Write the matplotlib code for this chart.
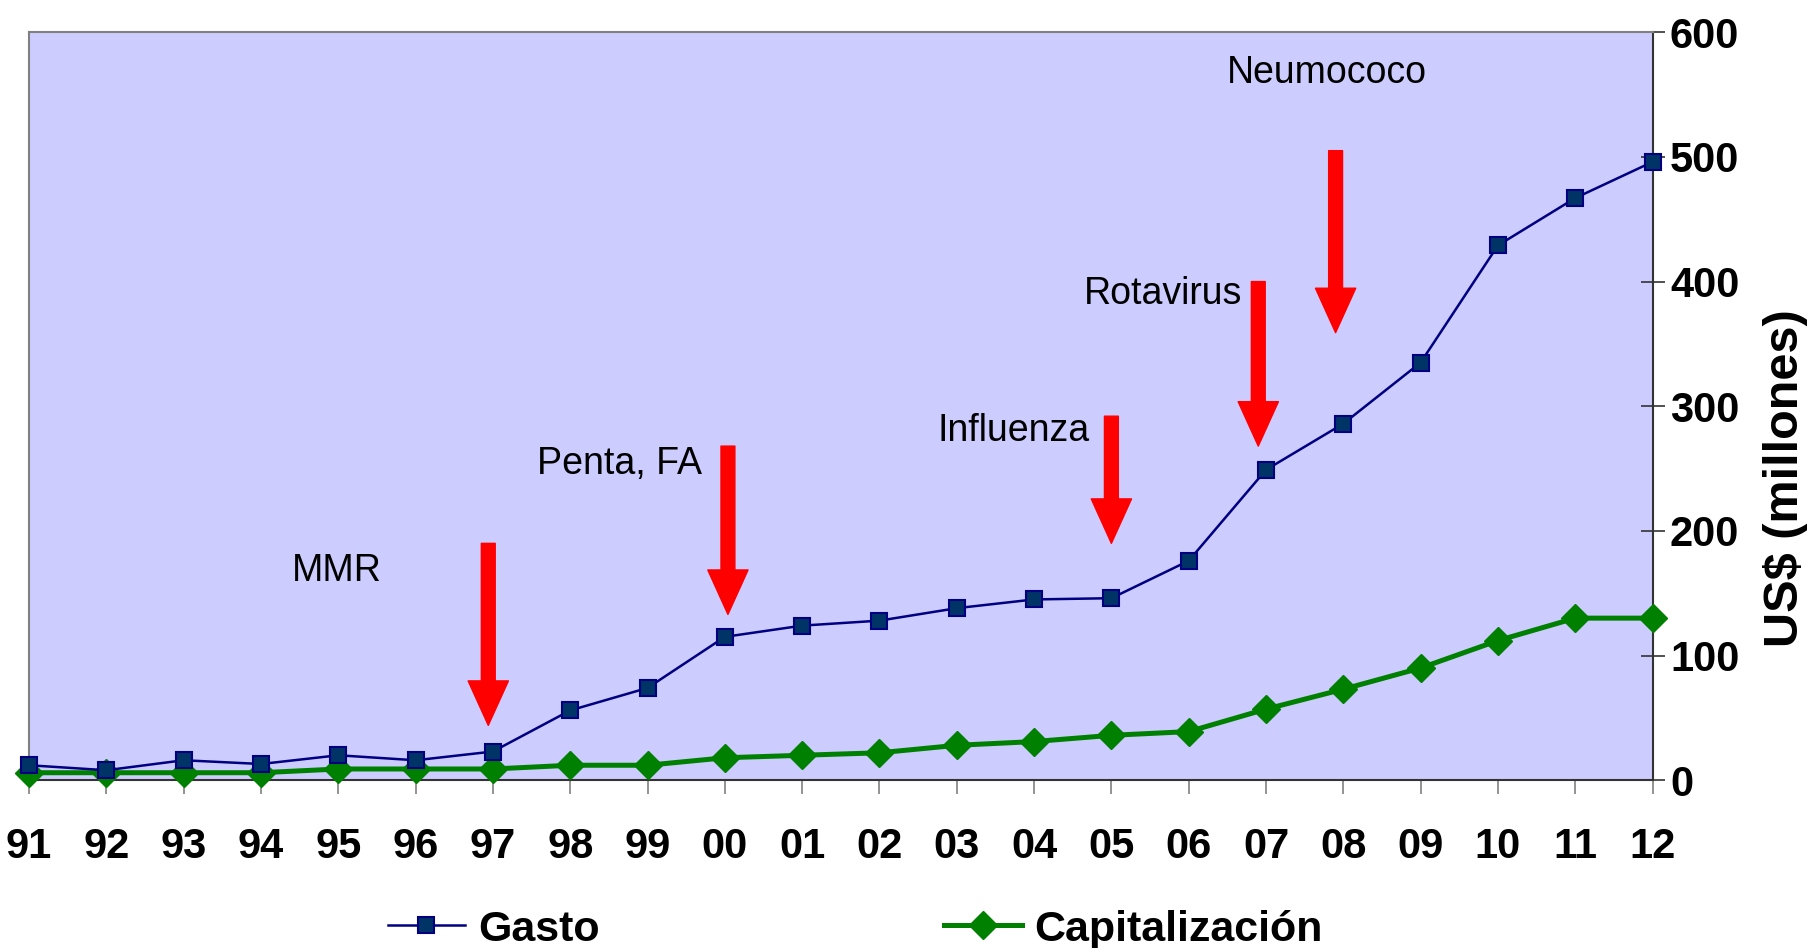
import matplotlib.pyplot as plt
import matplotlib.lines as mlines

plt.rcParams['font.family'] = ['Liberation Sans', 'DejaVu Sans']

# datos
anios = ['91', '92', '93', '94', '95', '96', '97', '98', '99', '00', '01',
         '02', '03', '04', '05', '06', '07', '08', '09', '10', '11', '12']
gasto = [12, 8, 16, 13, 20, 16, 23, 56, 74, 115, 124,
         128, 138, 145, 146, 176, 249, 286, 335, 429, 467, 496]
capitalizacion = [6, 6, 6, 6, 9, 9, 9, 12, 12, 18, 20,
                  22, 28, 31, 36, 39, 57, 73, 90, 112, 130, 130]

# vacunas introducidas (texto, posicion del texto, flecha)
vacunas = ['MMR', 'Penta, FA', 'Influenza', 'Rotavirus', 'Neumococo']
texto_x = [3.98, 7.64, 12.73, 14.67, 16.79]
texto_y = [168, 254, 280, 390, 567]
flecha_x = [5.94, 9.04, 14.0, 15.9, 16.9]
flecha_top = [190, 268, 292, 400, 505]
flecha_tip = [44, 133, 190, 268, 359]

fig = plt.figure(figsize=(18.16, 9.48), dpi=100)
ax = fig.add_axes([0.016, 0.177, 0.894, 0.789])
ax.set_facecolor('#CCCCFF')

x = list(range(len(anios)))
ax.plot(x, capitalizacion, color='#008000', lw=3.6, marker='D', ms=14,
        mfc='#008000', mec='#008000', clip_on=False, zorder=3)
ax.plot(x, gasto, color='#000080', lw=1.8, marker='s', ms=12,
        mfc='#003366', mec='#000080', mew=1.5, clip_on=False, zorder=4)

for i in range(len(vacunas)):
    ax.annotate('', xy=(flecha_x[i], flecha_tip[i]), xytext=(flecha_x[i], flecha_top[i]),
                arrowprops=dict(arrowstyle='simple,head_width=2.9,head_length=3.2,tail_width=1.0',
                                color='red', mutation_scale=10, shrinkA=0, shrinkB=0),
                zorder=5)
    ax.text(texto_x[i], texto_y[i], vacunas[i], fontsize=27, ha='center', va='center')

ax.set_xlim(0, len(anios) - 1)
ax.set_ylim(0, 600)
ax.set_xticks(x)
ax.set_xticklabels(anios, fontsize=30, fontweight='bold')
ax.tick_params(axis='x', direction='out', length=10, width=1.2, color='#808080', pad=24)

ax.yaxis.tick_right()
ax.set_yticks(range(0, 601, 100))
ax.tick_params(axis='y', direction='inout', length=17, width=1.2, color='#333333',
               pad=4, labelsize=30)
for lab in ax.get_yticklabels():
    lab.set_fontweight('bold')

ax.spines['left'].set_color('#808080')
ax.spines['top'].set_color('#808080')
ax.spines['right'].set_color('#333333')
ax.spines['bottom'].set_color('#333333')
for s in ax.spines.values():
    s.set_linewidth(1.5)

fig.text(0.983, 0.496, 'US$ (millones)', rotation=90, fontsize=35, fontweight='bold',
         ha='center', va='center')

h1 = mlines.Line2D([], [], color='#000080', lw=1.8, marker='s', ms=12,
                   mfc='#003366', mec='#000080', mew=1.5)
h2 = mlines.Line2D([], [], color='#008000', lw=3.6, marker='D', ms=14,
                   mfc='#008000', mec='#008000')
fig.legend([h1, h2], ['Gasto', 'Capitalización'], loc='center', ncol=2,
           bbox_to_anchor=(0.471, 0.0195), frameon=False, handlelength=1.8,
           handletextpad=0.3, columnspacing=8.0,
           prop={'size': 31, 'weight': 'bold'})

fig.savefig('out.png', dpi=100)
